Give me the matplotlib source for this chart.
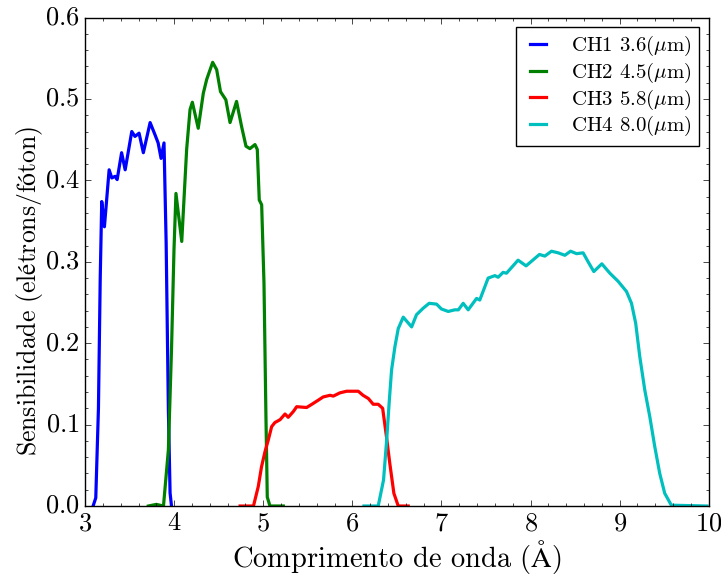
import matplotlib
matplotlib.use('Agg')
import matplotlib.pyplot as plt
from matplotlib.ticker import MultipleLocator

plt.style.use('classic')
plt.rcParams['font.family'] = ['cmr10']
plt.rcParams['mathtext.fontset'] = 'cm'
plt.rcParams['axes.formatter.use_mathtext'] = True

# IRAC channel response curves (wavelength, sensitivity)
ch1_wl = [3.09, 3.12, 3.15, 3.17, 3.187, 3.217, 3.27, 3.30, 3.337, 3.36, 3.41, 3.45,
          3.524, 3.56, 3.606, 3.654, 3.73, 3.785, 3.82, 3.853, 3.886, 3.91, 3.935,
          3.954, 3.97]
ch1_s = [0.0, 0.01, 0.12, 0.28, 0.374, 0.343, 0.413, 0.403, 0.405, 0.401, 0.434,
         0.413, 0.460, 0.454, 0.458, 0.434, 0.471, 0.456, 0.446, 0.427, 0.446, 0.323,
         0.118, 0.016, 0.0]

ch2_wl = [3.71, 3.80, 3.88, 3.935, 3.97, 3.998, 4.02, 4.085, 4.14, 4.178, 4.204,
          4.27, 4.327, 4.365, 4.432, 4.477, 4.52, 4.58, 4.627, 4.70, 4.757, 4.806,
          4.85, 4.907, 4.933, 4.955, 4.982, 5.008, 5.03, 5.045, 5.075, 5.225]
ch2_s = [0.0, 0.002, 0.0, 0.069, 0.192, 0.315, 0.384, 0.325, 0.438, 0.487, 0.496,
         0.464, 0.507, 0.524, 0.545, 0.536, 0.509, 0.499, 0.471, 0.497, 0.466, 0.442,
         0.439, 0.444, 0.438, 0.376, 0.370, 0.274, 0.110, 0.011, 0.0, 0.0]

ch3_wl = [4.74, 4.89, 4.944, 4.98, 5.02, 5.056, 5.094, 5.13, 5.188, 5.244, 5.28,
          5.337, 5.375, 5.487, 5.56, 5.617, 5.673, 5.75, 5.786, 5.86, 5.936, 6.066,
          6.12, 6.18, 6.234, 6.29, 6.34, 6.383, 6.42, 6.466, 6.515, 6.627]
ch3_s = [0.0, 0.0, 0.024, 0.048, 0.067, 0.081, 0.0975, 0.1025, 0.106, 0.113, 0.109,
         0.116, 0.122, 0.121, 0.126, 0.130, 0.134, 0.136, 0.135, 0.139, 0.141, 0.141,
         0.136, 0.132, 0.125, 0.125, 0.120, 0.085, 0.0525, 0.0156, 0.0, 0.0]

ch4_wl = [6.13, 6.29, 6.35, 6.385, 6.415, 6.44, 6.478, 6.515, 6.571, 6.665, 6.72,
          6.795, 6.862, 6.945, 7.0, 7.076, 7.15, 7.19, 7.244, 7.30, 7.394, 7.43,
          7.524, 7.60, 7.636, 7.692, 7.73, 7.86, 7.95, 8.10, 8.16, 8.235, 8.31,
          8.385, 8.449, 8.516, 8.59, 8.646, 8.71, 8.80, 8.89, 8.983, 9.077, 9.133,
          9.18, 9.226, 9.282, 9.338, 9.394, 9.45, 9.506, 9.58, 9.98]
ch4_s = [0.0, 0.0, 0.032, 0.081, 0.130, 0.167, 0.196, 0.218, 0.232, 0.220, 0.235,
         0.243, 0.249, 0.248, 0.242, 0.239, 0.241, 0.241, 0.249, 0.241, 0.255, 0.253,
         0.280, 0.283, 0.281, 0.287, 0.286, 0.302, 0.295, 0.309, 0.307, 0.313, 0.311,
         0.308, 0.313, 0.310, 0.311, 0.300, 0.288, 0.2975, 0.286, 0.276, 0.2635, 0.249,
         0.2245, 0.1835, 0.1425, 0.110, 0.073, 0.040, 0.0156, 0.001, 0.0]

labels = [r'CH1 3.6($\mu$m)', r'CH2 4.5($\mu$m)', r'CH3 5.8($\mu$m)', r'CH4 8.0($\mu$m)']

fig = plt.figure(figsize=(7.21, 5.76), dpi=100, facecolor='white')
ax = fig.add_axes([0.118, 0.1215, 0.865, 0.848])

ax.plot(ch1_wl, ch1_s, 'b', lw=2.3, solid_joinstyle='round', label=labels[0])
ax.plot(ch2_wl, ch2_s, 'g', lw=2.3, solid_joinstyle='round', label=labels[1])
ax.plot(ch3_wl, ch3_s, 'r', lw=2.3, solid_joinstyle='round', label=labels[2])
ax.plot(ch4_wl, ch4_s, 'c', lw=2.3, solid_joinstyle='round', label=labels[3])

ax.set_xlim(3, 10)
ax.set_ylim(0, 0.6)
ax.xaxis.set_major_locator(MultipleLocator(1))
ax.xaxis.set_minor_locator(MultipleLocator(0.2))
ax.yaxis.set_major_locator(MultipleLocator(0.1))
ax.yaxis.set_minor_locator(MultipleLocator(0.02))
ax.tick_params(labelsize=19)

ax.set_xlabel(r'Comprimento de onda ($\mathrm{\AA}$)', fontsize=20.5, labelpad=2)
ax.set_ylabel('$\\mathrm{Sensibilidade\\ (el\u00e9trons/f\u00f3ton)}$', fontsize=18.5)
ax.yaxis.set_label_coords(-0.064, 0.44)

ax.legend(loc='upper right', fontsize=15, handlelength=1.4, handletextpad=0.9,
          labelspacing=0.12, borderpad=0.35, borderaxespad=0.45)

fig.savefig('out.png', dpi=100, facecolor='white')
